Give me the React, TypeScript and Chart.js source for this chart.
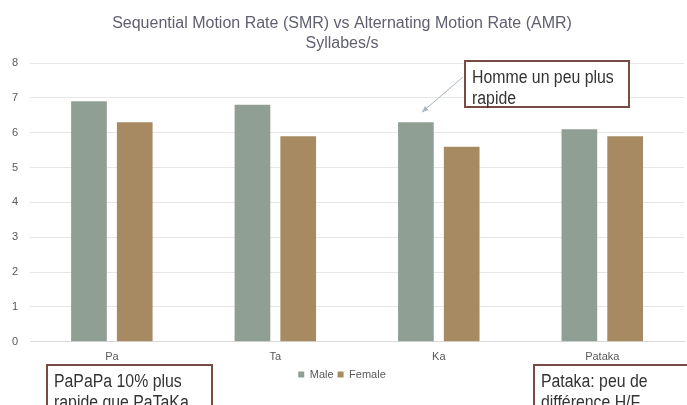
import React, { useEffect, useRef } from "react";
import { Chart, registerables } from "chart.js";

Chart.register(...registerables);

const categories = ["Pa", "Ta", "Ka", "Pataka"];
const maleValues = [6.9, 6.8, 6.3, 6.1];
const femaleValues = [6.3, 5.9, 5.6, 5.9];
const titleLines = ["Sequential Motion Rate (SMR) vs Alternating Motion Rate (AMR)", "Syllabes/s"];
const noteArrow = ["Homme un peu plus", "rapide"];
const noteLeft = ["PaPaPa 10% plus", "rapide que PaTaKa"];
const noteRight = ["Pataka: peu de", "différence H/F"];

const FONT = "'Liberation Sans', Arial, sans-serif";

function drawBox(ctx: CanvasRenderingContext2D, x: number, y: number, w: number, h: number, lines: string[]) {
  ctx.save();
  ctx.fillStyle = "#ffffff";
  ctx.fillRect(x, y, w, h);
  ctx.strokeStyle = "#7a4a44";
  ctx.lineWidth = 2;
  ctx.strokeRect(x, y, w, h);
  ctx.fillStyle = "#333333";
  ctx.textBaseline = "alphabetic";
  ctx.translate(x + 7, y);
  ctx.scale(0.88, 1);
  ctx.font = `18px ${FONT}`;
  lines.forEach((l, i) => ctx.fillText(l, 0, 22 + i * 21));
  ctx.restore();
}

const notesPlugin = {
  id: "notes",
  afterDraw(chart: any) {
    const ctx = chart.ctx as CanvasRenderingContext2D;
    const bar = chart.getDatasetMeta(0).data[2];
    const bx = 465, by = 61;
    const tipX = bar.x + 6, tipY = bar.y - 10;
    ctx.save();
    ctx.strokeStyle = "#a9b4bf";
    ctx.fillStyle = "#a9b4bf";
    ctx.lineWidth = 1;
    ctx.beginPath();
    ctx.moveTo(bx - 2, by + 16);
    ctx.lineTo(tipX, tipY);
    ctx.stroke();
    const ang = Math.atan2(tipY - (by + 16), tipX - (bx - 2));
    ctx.beginPath();
    ctx.moveTo(tipX, tipY);
    ctx.lineTo(tipX - 7 * Math.cos(ang - 0.4), tipY - 7 * Math.sin(ang - 0.4));
    ctx.lineTo(tipX - 7 * Math.cos(ang + 0.4), tipY - 7 * Math.sin(ang + 0.4));
    ctx.closePath();
    ctx.fill();
    ctx.restore();
    drawBox(ctx, bx, by, 164, 46, noteArrow);
    drawBox(ctx, 47, 365, 165, 60, noteLeft);
    drawBox(ctx, 534, 365, 170, 60, noteRight);
  },
};

export default function App() {
  const ref = useRef<HTMLCanvasElement | null>(null);
  useEffect(() => {
    if (!ref.current) return;
    const chart = new Chart(ref.current, {
      type: "bar",
      data: {
        labels: categories,
        datasets: [
          { label: "Male", data: maleValues, backgroundColor: "#8f9f94", barPercentage: 0.78, categoryPercentage: 0.56 },
          { label: "Female", data: femaleValues, backgroundColor: "#a88a62", barPercentage: 0.78, categoryPercentage: 0.56 },
        ],
      },
      options: {
        animation: false,
        responsive: false,
        maintainAspectRatio: false,
        layout: { padding: { left: 0, right: 3, top: 0, bottom: 15 } },
        plugins: {
          title: {
            display: true,
            text: titleLines,
            color: "#5f5f70",
            font: { family: FONT, size: 16, weight: "normal", lineHeight: 1.25 },
            padding: { top: 14, bottom: 9 },
          },
          legend: {
            position: "bottom",
            labels: {
              boxWidth: 6,
              boxHeight: 6,
              padding: 4,
              color: "#595959",
              font: { family: FONT, size: 11 },
            },
          },
          tooltip: { enabled: false },
        },
        scales: {
          x: {
            grid: { display: false },
            border: { display: true, color: "#d9d9d9" },
            ticks: { color: "#595959", font: { family: FONT, size: 11 }, padding: 1 },
          },
          y: {
            min: 0,
            max: 8,
            ticks: { stepSize: 1, color: "#595959", font: { family: FONT, size: 11 }, padding: 12 },
            grid: { color: "#e6e6e6", drawTicks: false },
            border: { display: false },
          },
        },
      },
      plugins: [notesPlugin],
    });
    return () => chart.destroy();
  }, []);
  return (
    <div style={{ position: "absolute", left: 0, top: 0, width: 687, height: 405, background: "#fff" }}>
      <canvas ref={ref} width={687} height={405} style={{ width: 687, height: 405 }} />
    </div>
  );
}
